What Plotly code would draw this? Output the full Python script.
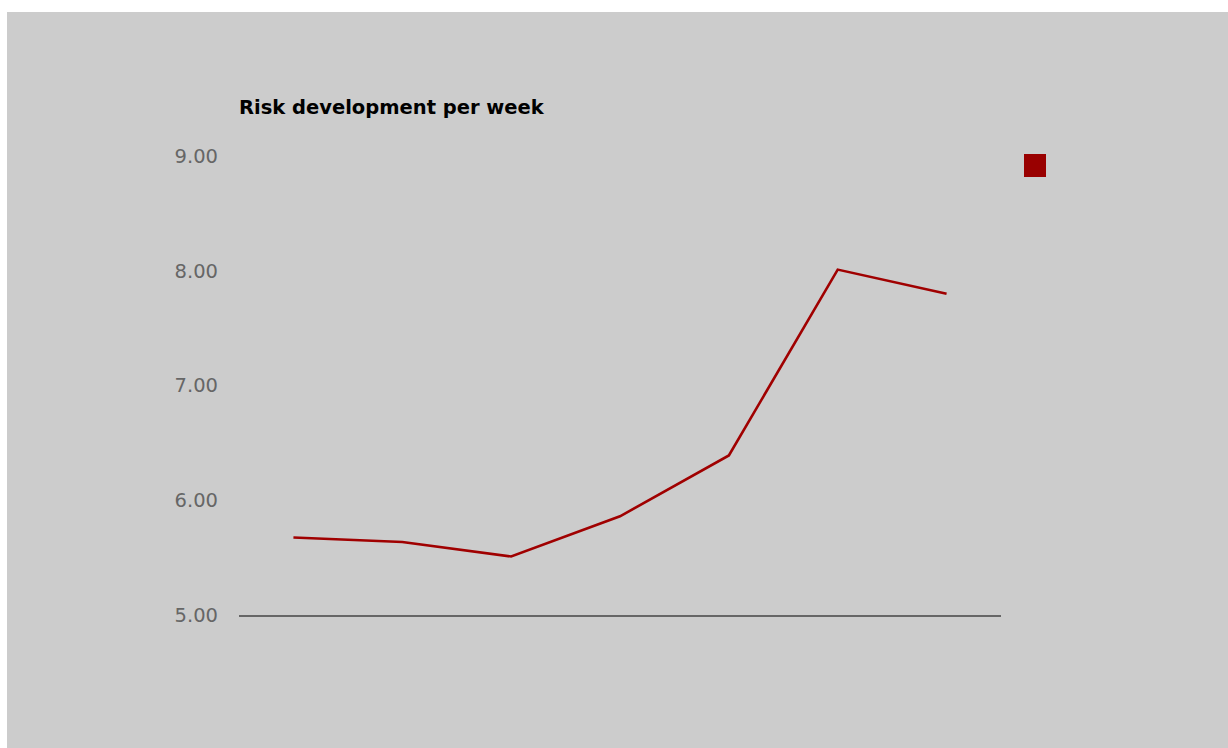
import plotly.graph_objects as go

# Weekly risk scores
weeks = [1, 2, 3, 4, 5, 6, 7]
risk = [5.675, 5.636, 5.51, 5.86, 6.39, 8.01, 7.80]
y_ticks = [5, 6, 7, 8, 9]
y_tick_text = ["5.00", "6.00", "7.00", "8.00", "9.00"]

W, H = 1228, 748
L, R = 239, 1001          # plot area left/right (px)
T, B = 156, 614.7         # plot area top/bottom (px)
pw, ph = R - L, B - T

def px_x(v):
    return (v - L) / pw

def px_y(v):
    return (B - v) / ph

line_color = "#a00000"
font_family = "DejaVu Sans"

fig = go.Figure()
fig.add_trace(go.Scatter(
    x=weeks, y=risk, mode="lines",
    line=dict(color=line_color, width=2.6),
    showlegend=False, hoverinfo="skip",
))

shapes = [
    # grey panel behind the chart
    dict(type="rect", xref="paper", yref="paper", layer="below",
         x0=px_x(7), x1=px_x(W + 2), y0=px_y(H + 2), y1=px_y(12),
         fillcolor="#cccccc", line=dict(width=0)),
    # legend key
    dict(type="rect", xref="paper", yref="paper",
         x0=px_x(1024), x1=px_x(1046), y0=px_y(177), y1=px_y(154),
         fillcolor="#990000", line=dict(width=0)),
]

fig.update_layout(
    width=W, height=H,
    margin=dict(l=L, r=W - R, t=T, b=H - B, pad=0),
    paper_bgcolor="white",
    plot_bgcolor="rgba(0,0,0,0)",
    shapes=shapes,
    title=dict(
        text="<b>Risk development per week</b>",
        x=L / W, xanchor="left", xref="container",
        y=1 - 107 / H, yanchor="middle", yref="container",
        font=dict(family=font_family, size=19.5, color="black"),
    ),
    xaxis=dict(
        type="linear", range=[0.5, 7.5],
        showgrid=False, zeroline=False, showticklabels=False, ticks="",
        showline=True, linecolor="#666666", linewidth=2,
    ),
    yaxis=dict(
        range=[5, 9], tickvals=y_ticks, ticktext=y_tick_text,
        showgrid=False, zeroline=False, showline=False, ticks="",
        ticklabelstandoff=20,
        tickfont=dict(family=font_family, size=19.5, color="#666666"),
    ),
)

fig.write_html("out.html")
